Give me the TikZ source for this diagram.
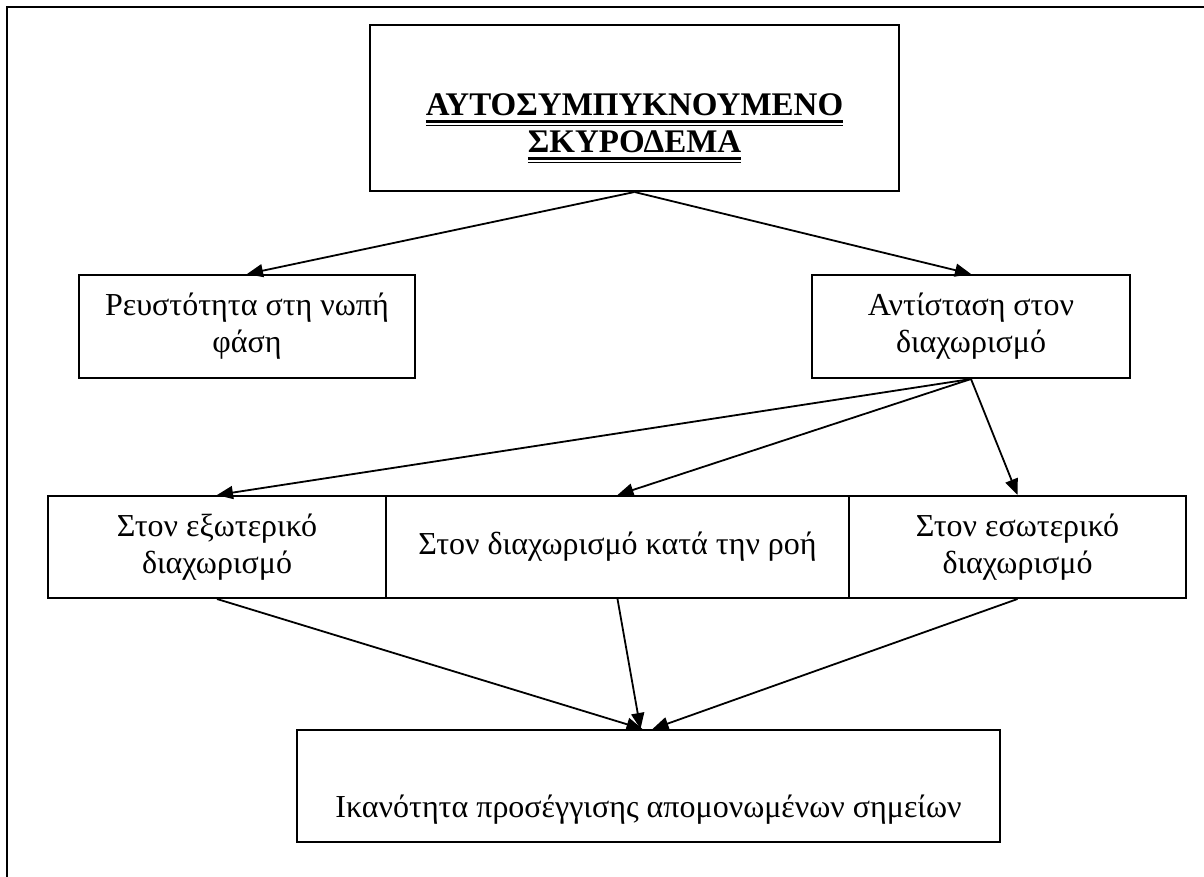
\documentclass[tikz,border=0pt]{standalone}
\usepackage{fontspec}
\setmainfont{Liberation Serif}
\usetikzlibrary{arrows.meta}

\newsavebox{\ulbox}
\newcommand{\dblul}[1]{\sbox{\ulbox}{#1}\leavevmode\rlap{\rule[-7pt]{\wd\ulbox}{2.6pt}}\rlap{\rule[-10.5pt]{\wd\ulbox}{1.3pt}}\usebox{\ulbox}}

\begin{document}
\begin{tikzpicture}[x=1pt, y=-1pt,
    box/.style={draw, line width=2pt, inner sep=0pt, align=center, font=\fontsize{32}{37}\selectfont},
    arr/.style={-{Triangle[length=16pt,width=13pt]}, line width=1.8pt}]
    \useasboundingbox (0,0) rectangle (1204,877);
    %frame
    \draw[line width=2.6pt] (7,890) -- (7,7) -- (1215,7);
    %boxes
    \node[box, minimum width=529pt, minimum height=166pt, font=\fontsize{33}{37}\selectfont\bfseries] at (634.5,108) (Sk){\strut\\ \dblul{ΑΥΤΟΣΥΜΠΥΚΝΟΥΜΕΝΟ}\\ \dblul{ΣΚΥΡΟΔΕΜΑ}};
    \node[box, minimum width=336pt, minimum height=103pt] at (247,326.5) (Rf){Ρευστότητα στη νωπή\\ φάση};
    \node[box, minimum width=318pt, minimum height=103pt] at (971,326.5) (An){Αντίσταση στον\\ διαχωρισμό};
    \node[box, minimum width=338pt, minimum height=102pt] at (217,547) (Ex){Στον εξωτερικό\\ διαχωρισμό};
    \node[box, minimum width=463pt, minimum height=102pt] at (617.5,547) (Ro){Στον διαχωρισμό κατά την ροή};
    \node[box, minimum width=337pt, minimum height=102pt] at (1017.5,547) (Es){Στον εσωτερικό\\ διαχωρισμό};
    \node[box, minimum width=703pt, minimum height=112pt] at (648.5,786) (Ik){\strut\\[6pt] Ικανότητα προσέγγισης απομονωμένων σημείων};
    %arrows
    \draw[arr] (Sk.south) -- (Rf.north);
    \draw[arr] (Sk.south) -- (An.north);
    \draw[arr] (An.south) -- (Ex.north);
    \draw[arr] (An.south) -- (Ro.north);
    \draw[arr] (An.south) -- (Es.north);
    \draw[arr] (Ex.south) -- ([xshift=-6pt]Ik.north);
    \draw[arr] (Ro.south) -- ([xshift=-8pt]Ik.north);
    \draw[arr] (Es.south) -- ([xshift=4pt]Ik.north);
\end{tikzpicture}
\end{document}
